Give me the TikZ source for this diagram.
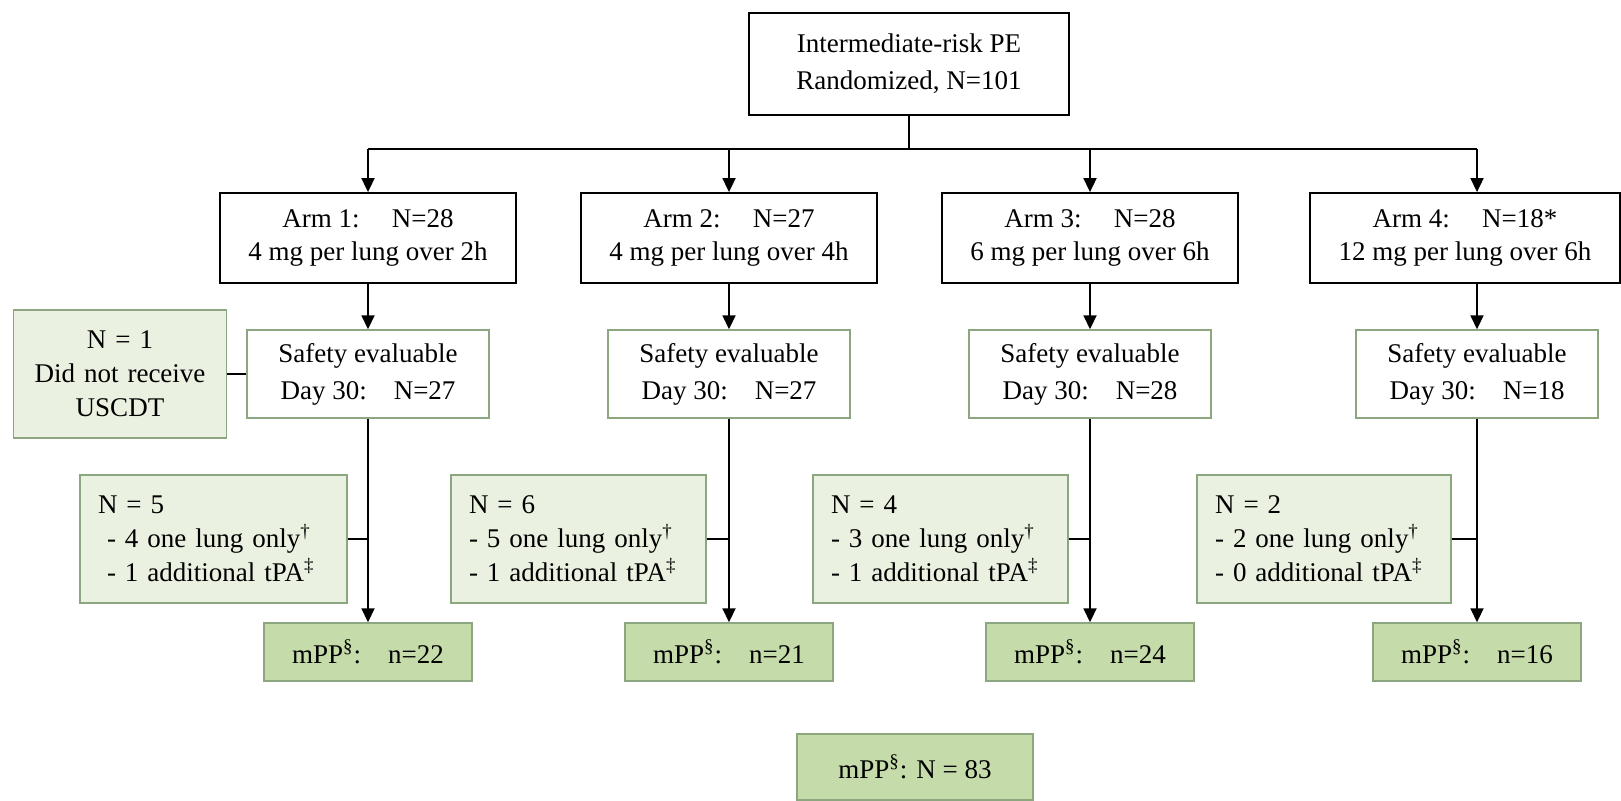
\documentclass[tikz,border=0pt]{standalone}
\usepackage{fontspec}
\setmainfont{Liberation Serif}
\usetikzlibrary{positioning,arrows.meta}

\definecolor{paleleaf}{HTML}{EAF1E0}
\definecolor{ppleaf}{HTML}{C5DBA9}
\definecolor{leafedge}{HTML}{8CA67F}

\begin{document}
\begin{tikzpicture}[
    x=1pt, y=1pt,
    node distance=90pt,
    block/.style={rectangle, draw, fill=white, align=center, inner sep=0pt, line width=0.9pt, font=\fontsize{13.5}{18.5}\selectfont},
    arm_block/.style={block, minimum width=148pt, minimum height=45pt, font=\fontsize{13.5}{16.5}\selectfont},
    safe_block/.style={block, draw=leafedge, line width=0.7pt, minimum width=121pt, minimum height=44pt},
    excl_block/.style={block, draw=leafedge, fill=paleleaf, line width=0.7pt, align=left, text width=#1, inner xsep=9pt, minimum height=64pt, font=\fontsize{13.5}{17}\selectfont},
    pp_block/.style={block, draw=leafedge, fill=ppleaf, line width=0.7pt, minimum width=104pt, minimum height=29pt},
    line/.style={draw, line width=0.9pt},
    arrow/.style={line, -{Triangle[length=7pt,width=6.5pt]}}
]
    \useasboundingbox (0,0) rectangle (810.5,-400.5);

    % Randomization
    \node [block, line width=1.4pt, minimum width=160pt, minimum height=51pt] (rand) at (454.5,-32) {Intermediate-risk PE\\Randomized, N=101};
    \coordinate (bus) at (454.5,-74.5);

    % Treatment arms
    \node [arm_block] (arm1) at (184,-119) {Arm 1:\hspace{1.2em}N=28\\4 mg per lung over 2h};
    \node [arm_block, right of=arm1, node distance=180.5pt] (arm2) {Arm 2:\hspace{1.2em}N=27\\4 mg per lung over 4h};
    \node [arm_block, right of=arm2, node distance=180.5pt] (arm3) {Arm 3:\hspace{1.2em}N=28\\6 mg per lung over 6h};
    \node [arm_block, minimum width=155pt, right of=arm3, node distance=187.5pt] (arm4) {Arm 4:\hspace{1.2em}N=18*\\12 mg per lung over 6h};

    % Safety population
    \node [safe_block, below of=arm1, node distance=68pt] (safe1) {Safety evaluable\\Day 30:\quad N=27};
    \node [safe_block, below of=arm2, node distance=68pt] (safe2) {Safety evaluable\\Day 30:\quad N=27};
    \node [safe_block, below of=arm3, node distance=68pt] (safe3) {Safety evaluable\\Day 30:\quad N=28};
    \node [safe_block] (safe4) at (738.5,-187) {Safety evaluable\\Day 30:\quad N=18};
    \node [excl_block=88.5pt, align=center, left of=safe1, node distance=124pt] (noshow) {N = 1\\Did not receive\\USCDT};

    % Excluded from mPP
    \node [excl_block=115.5pt] (excl1) at (106.75,-269.5) {N = 5\\\ - 4 one lung only\textsuperscript{†}\\\ - 1 additional tPA\textsuperscript{‡}};
    \node [excl_block=109.5pt] (excl2) at (289.25,-269.5) {N = 6\\- 5 one lung only\textsuperscript{†}\\- 1 additional tPA\textsuperscript{‡}};
    \node [excl_block=109.5pt] (excl3) at (470.25,-269.5) {N = 4\\- 3 one lung only\textsuperscript{†}\\- 1 additional tPA\textsuperscript{‡}};
    \node [excl_block=109pt] (excl4) at (662,-269.5) {N = 2\\- 2 one lung only\textsuperscript{†}\\- 0 additional tPA\textsuperscript{‡}};

    % Per-protocol
    \node [pp_block, below of=safe1, node distance=139pt] (pp1) {mPP\textsuperscript{§}:\quad n=22};
    \node [pp_block, below of=safe2, node distance=139pt] (pp2) {mPP\textsuperscript{§}:\quad n=21};
    \node [pp_block, below of=safe3, node distance=139pt] (pp3) {mPP\textsuperscript{§}:\quad n=24};
    \node [pp_block, below of=safe4, node distance=139pt] (pp4) {mPP\textsuperscript{§}:\quad n=16};
    \node [pp_block, minimum width=118pt, minimum height=33pt] (ppall) at (457.5,-383.5) {mPP\textsuperscript{§}: N = 83};

    % Paths
    \path [line] (rand.south) -- (bus);
    \path [line] (bus -| arm1) -- (bus -| safe4);
    \path [arrow] (bus -| arm1) -- (arm1);
    \path [arrow] (bus -| arm2) -- (arm2);
    \path [arrow] (bus -| arm3) -- (arm3);
    \path [arrow] (bus -| safe4) -- (safe4 |- arm4.north);
    \path [arrow] (arm1) -- (safe1);
    \path [arrow] (arm2) -- (safe2);
    \path [arrow] (arm3) -- (safe3);
    \path [arrow] (safe4 |- arm4.south) -- (safe4);
    \path [line] (noshow) -- (safe1);
    \path [arrow] (safe1) -- (pp1);
    \path [arrow] (safe2) -- (pp2);
    \path [arrow] (safe3) -- (pp3);
    \path [arrow] (safe4) -- (pp4);
    \path [line] (excl1.east) -- (excl1.east -| safe1);
    \path [line] (excl2.east) -- (excl2.east -| safe2);
    \path [line] (excl3.east) -- (excl3.east -| safe3);
    \path [line] (excl4.east) -- (excl4.east -| safe4);

\end{tikzpicture}
\end{document}
